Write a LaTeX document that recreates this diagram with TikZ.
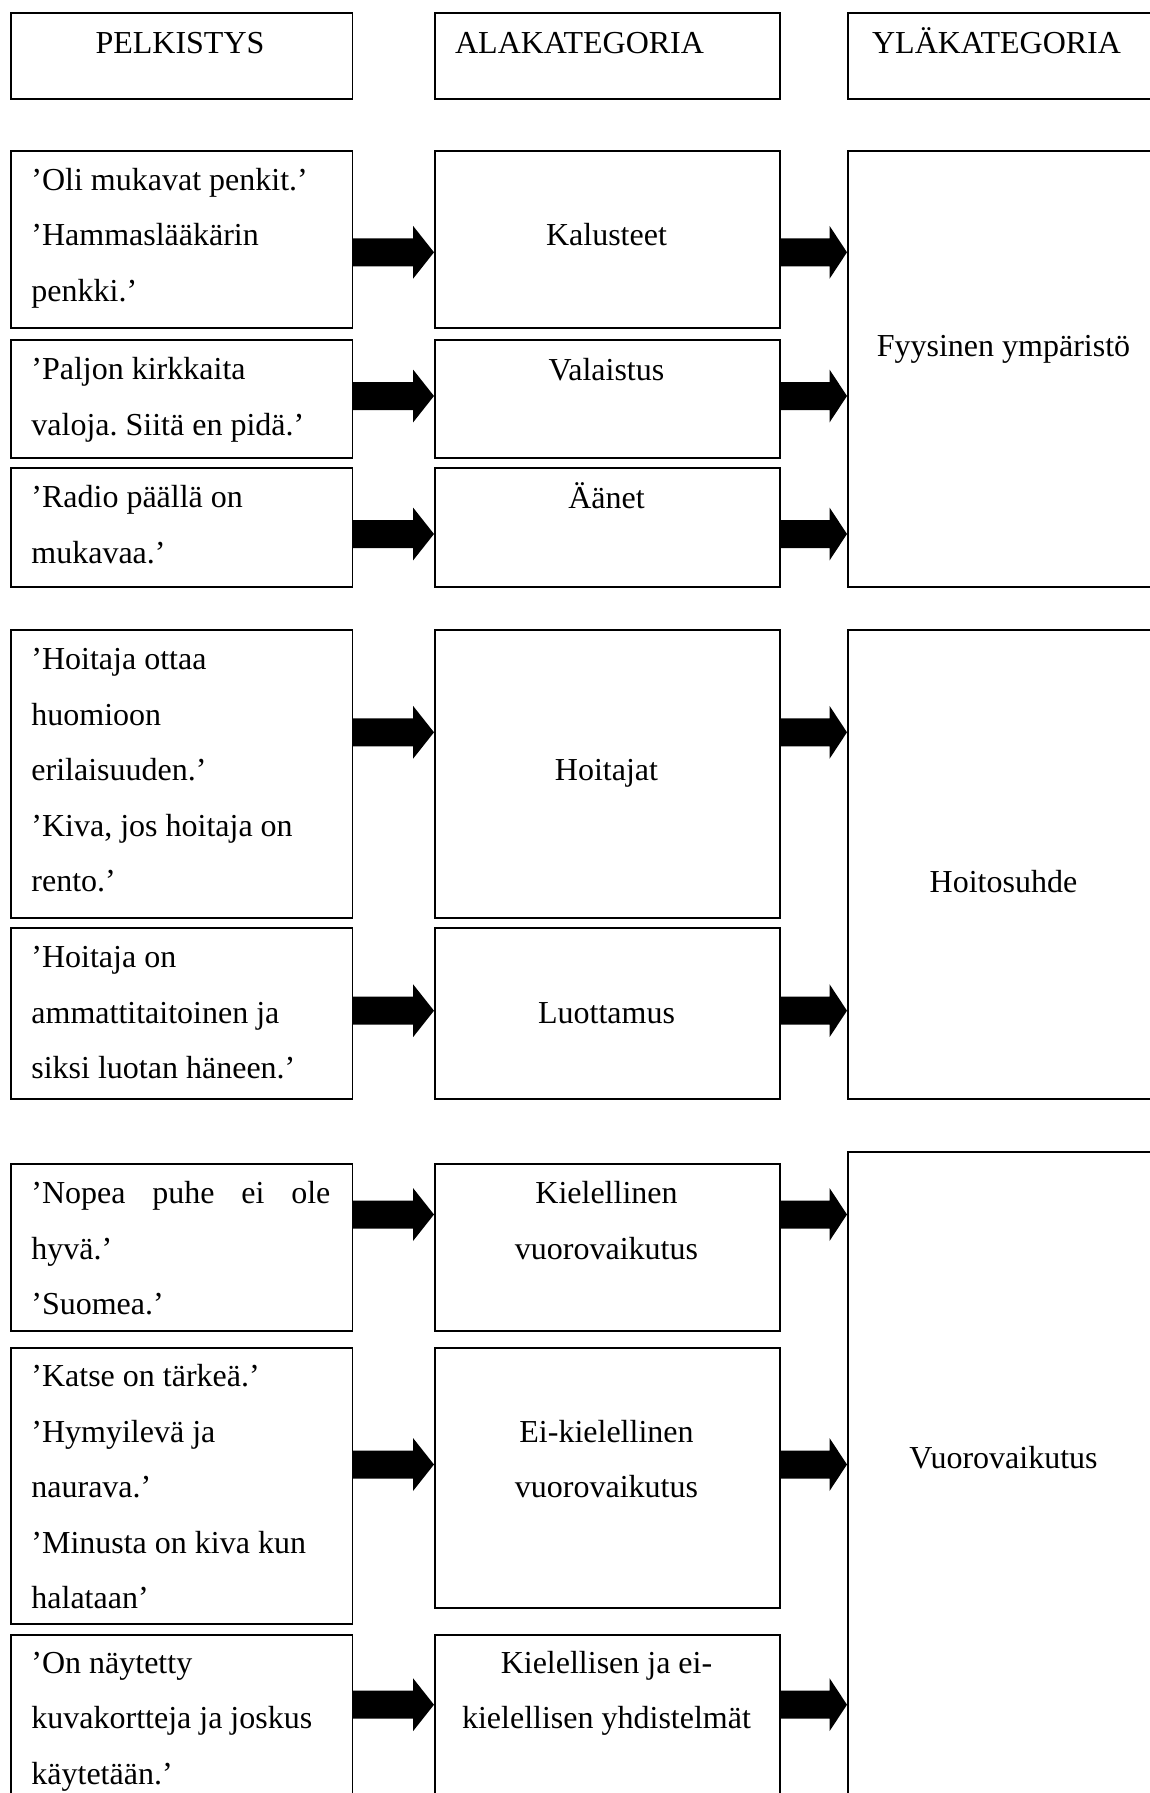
\documentclass[tikz,border=0pt]{standalone}
\usepackage{fontspec}
\setmainfont{Liberation Serif}
\frenchspacing
\usetikzlibrary{calc}
\tikzset{
  bx/.style={draw=black, line width=0.85pt, fill=white, rectangle, inner sep=0pt, anchor=north west},
  txt/.style={inner sep=0pt, font=\fontsize{16pt}{27.75pt}\selectfont},
  ltxt/.style={txt, anchor=base west},
  ctxt/.style={txt, anchor=base},
  arrowfill/.style={fill=black},
}
\newcommand\bx[5]{\node[bx, minimum width={(#4-#2)*0.5pt}, minimum height={(#5-#3)*0.5pt}] (#1) at (#2,#3) {};}
\newcommand\llines[1]{\parbox[t]{160pt}{\raggedright\frenchspacing #1}}
\newcommand\clines[1]{\parbox[t]{170pt}{\centering #1}}
% block arrow: [head length]{from}{to}
\newcommand\barrow[3][10.5pt]{\fill[arrowfill] let \p1=(#2), \p2=(#3) in
  (\x1,\y1+7pt) -- (\x2-#1,\y1+7pt) -- (\x2-#1,\y1+13.25pt) -- (\x2,\y1)
  -- (\x2-#1,\y1-13.25pt) -- (\x2-#1,\y1-7pt) -- (\x1,\y1-7pt) -- cycle;}
\begin{document}
\begin{tikzpicture}[x=0.5pt,y=-0.5pt]
\path[use as bounding box, clip] (0,0) rectangle (1150,1793);
\fill[white] (0,0) rectangle (1150,1793);

% header
\bx{h1}{10}{12}{351.5}{98}
\bx{h2}{434}{12}{779}{98}
\bx{h3}{847}{12}{1160}{98}
\node[ctxt] (th1) at (180,53.3) {PELKISTYS};
\node[ltxt] (th2) at (454.7,53.3) {ALAKATEGORIA};
\node[ltxt] (th3) at (871.7,53.3) {YLÄKATEGORIA};

% column 1 boxes
\bx{r1a}{10}{150}{351.5}{327}
\bx{r2a}{10}{339}{351.5}{457}
\bx{r3a}{10}{467}{351.5}{586}
\bx{r4a}{10}{629}{351.5}{917}
\bx{r5a}{10}{927}{351.5}{1098}
\bx{r6a}{10}{1163}{351.5}{1330}
\bx{r7a}{10}{1347}{351.5}{1623}
\bx{r8a}{10}{1634}{351.5}{1850}
% column 2 boxes
\bx{r1b}{434}{150}{779}{327}
\bx{r2b}{434}{339}{779}{457}
\bx{r3b}{434}{467}{779}{586}
\bx{r4b}{434}{629}{779}{917}
\bx{r5b}{434}{927}{779}{1098}
\bx{r6b}{434}{1163}{779}{1330}
\bx{r7b}{434}{1347}{779}{1607}
\bx{r8b}{434}{1634}{779}{1850}
% column 3 boxes
\bx{c1}{847}{150}{1160}{586}
\bx{c2}{847}{629}{1160}{1098}
\bx{c3}{847}{1151}{1160}{1850}

% column 1 texts
\node[ltxt] (t1a) at (31,190.5) {\llines{’Oli mukavat penkit.’\\’Hammaslääkärin\\penkki.’}};
\node[ltxt] (t2a) at (31,379.5) {\llines{’Paljon kirkkaita\\valoja. Siitä en pidä.’}};
\node[ltxt] (t3a) at (31,507.5) {\llines{’Radio päällä on\\mukavaa.’}};
\node[ltxt] (t4a) at (31,669.5) {\llines{’Hoitaja ottaa\\huomioon\\erilaisuuden.’\\’Kiva, jos hoitaja on\\rento.’}};
\node[ltxt] (t5a) at (31,967.5) {\llines{’Hoitaja on\\ammattitaitoinen ja\\siksi luotan häneen.’}};
\node[ltxt] (t6a) at (31,1203.5) {\llines{\makebox[149.5pt][s]{’Nopea puhe ei ole}\\hyvä.’\\’Suomea.’}};
\node[ltxt] (t7a) at (31,1386.5) {\llines{’Katse on tärkeä.’\\’Hymyilevä ja\\naurava.’\\’Minusta on kiva kun\\halataan’}};
\node[ltxt] (t8a) at (31,1673) {\llines{’On näytetty\\kuvakortteja ja joskus\\käytetään.’}};

% column 2 texts
\node[ctxt] (t1b) at (606.5,245.7) {Kalusteet};
\node[ctxt] (t2b) at (606.5,380) {Valaistus};
\node[ctxt] (t3b) at (606.5,508) {Äänet};
\node[ctxt] (t4b) at (606.5,780.5) {Hoitajat};
\node[ctxt] (t5b) at (606.5,1023) {Luottamus};
\node[ctxt] (t6b) at (606.5,1203.5) {\clines{Kielellinen\\vuorovaikutus}};
\node[ctxt] (t7b) at (606.5,1442) {\clines{Ei-kielellinen\\vuorovaikutus}};
\node[ctxt] (t8b) at (606.5,1673) {\clines{Kielellisen ja ei-\\kielellisen yhdistelmät}};

% column 3 texts
\node[ctxt] (tc1) at (1003.5,356.7) {Fyysinen ympäristö};
\node[ctxt] (tc2) at (1003.5,892) {Hoitosuhde};
\node[ctxt] (tc3) at (1003.5,1468.3) {Vuorovaikutus};

% arrow levels
\coordinate (y1) at (0,252.3);
\coordinate (y2) at (0,396);
\coordinate (y3) at (0,534);
\coordinate (y4) at (0,732.3);
\coordinate (y5) at (0,1010.7);
\coordinate (y6) at (0,1214.5);
\coordinate (y7) at (0,1464.5);
\coordinate (y8) at (0,1704.7);

% arrows column 1 -> column 2
\barrow{r1a.east |- y1}{r1b.west |- y1}
\barrow{r2a.east |- y2}{r2b.west |- y2}
\barrow{r3a.east |- y3}{r3b.west |- y3}
\barrow{r4a.east |- y4}{r4b.west |- y4}
\barrow{r5a.east |- y5}{r5b.west |- y5}
\barrow{r6a.east |- y6}{r6b.west |- y6}
\barrow{r7a.east |- y7}{r7b.west |- y7}
\barrow{r8a.east |- y8}{r8b.west |- y8}
% arrows column 2 -> column 3
\barrow[8.75pt]{r1b.east |- y1}{c1.west |- y1}
\barrow[8.75pt]{r2b.east |- y2}{c1.west |- y2}
\barrow[8.75pt]{r3b.east |- y3}{c1.west |- y3}
\barrow[8.75pt]{r4b.east |- y4}{c2.west |- y4}
\barrow[8.75pt]{r5b.east |- y5}{c2.west |- y5}
\barrow[8.75pt]{r6b.east |- y6}{c3.west |- y6}
\barrow[8.75pt]{r7b.east |- y7}{c3.west |- y7}
\barrow[8.75pt]{r8b.east |- y8}{c3.west |- y8}
\end{tikzpicture}
\end{document}
